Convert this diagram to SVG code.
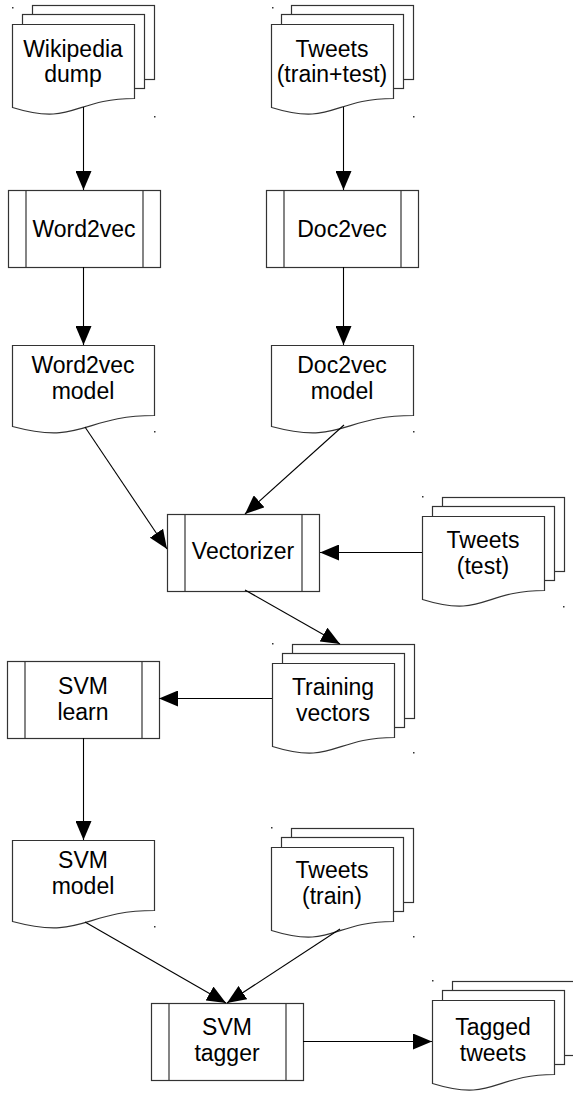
<svg xmlns="http://www.w3.org/2000/svg" xmlns:xlink="http://www.w3.org/1999/xlink" width="573" height="1099" viewBox="0 0 573 1099">
<style>
.s{fill:#fff;stroke:#333;stroke-width:1.2}
.t{font-family:"Liberation Sans",Arial,sans-serif;font-size:23px;fill:#000;text-anchor:middle}
.c{fill:none;stroke:#000;stroke-width:1.1}
.d{fill:#333}
</style>
<defs>
<marker id="ah" markerUnits="userSpaceOnUse" markerWidth="20" markerHeight="16" refX="19" refY="8" orient="auto">
<path d="M0,0 L19,8 L0,16 Z" fill="#000"/>
</marker>
<g id="mdoc">
<rect class="s" x="20" y="0" width="122" height="74"/>
<rect class="s" x="10" y="9" width="122" height="74"/>
<path class="s" d="M0,19 H122 V93 C61,93 61,121 0,102 Z"/>
</g>
<g id="doc">
<path class="s" d="M0,0 H142 V70 C71,70 71,100 0,81 Z"/>
</g>
<g id="proc">
<rect class="s" x="0" y="0" width="152" height="77"/>
<line class="s" x1="17.5" y1="0" x2="17.5" y2="77"/>
<line class="s" x1="134.5" y1="0" x2="134.5" y2="77"/>
</g>
</defs>
<rect width="573" height="1099" fill="#fff"/>

<g id="wikipedia">
<use xlink:href="#mdoc" x="12.5" y="5.5"/>
<text class="t" x="73" y="57">Wikipedia</text>
<text class="t" x="73" y="82">dump</text>
<rect class="d" x="12" y="7" width="1.5" height="1.5"/>
<rect class="d" x="154" y="116" width="1.5" height="1.5"/>
</g>
<g id="tweets-traintest">
<use xlink:href="#mdoc" x="271.5" y="5.5"/>
<text class="t" x="332" y="57">Tweets</text>
<text class="t" x="332" y="82">(train+test)</text>
<rect class="d" x="272" y="7" width="1.5" height="1.5"/>
<rect class="d" x="413" y="116" width="1.5" height="1.5"/>
</g>
<g id="word2vec">
<use xlink:href="#proc" x="8.5" y="190.5"/>
<text class="t" x="84" y="237">Word2vec</text>
</g>
<g id="doc2vec">
<use xlink:href="#proc" x="266.5" y="190.5"/>
<text class="t" x="342" y="237">Doc2vec</text>
</g>
<g id="word2vec-model">
<use xlink:href="#doc" x="12.5" y="345.5"/>
<text class="t" x="83" y="373">Word2vec</text>
<text class="t" x="83" y="399">model</text>
<rect class="d" x="154" y="431" width="1.5" height="1.5"/>
</g>
<g id="doc2vec-model">
<use xlink:href="#doc" x="271.5" y="345.5"/>
<text class="t" x="342" y="373">Doc2vec</text>
<text class="t" x="342" y="399">model</text>
<rect class="d" x="413" y="431" width="1.5" height="1.5"/>
</g>
<g id="vectorizer">
<use xlink:href="#proc" x="167.5" y="514.5"/>
<text class="t" x="243" y="559">Vectorizer</text>
</g>
<g id="tweets-test">
<use xlink:href="#mdoc" x="422.5" y="497.5"/>
<text class="t" x="483" y="548">Tweets</text>
<text class="t" x="483" y="574">(test)</text>
<rect class="d" x="422" y="496" width="1.5" height="1.5"/>
<rect class="d" x="563" y="606" width="1.5" height="1.5"/>
</g>
<g id="training-vectors">
<use xlink:href="#mdoc" x="272.5" y="644.5"/>
<text class="t" x="333" y="695">Training</text>
<text class="t" x="333" y="721">vectors</text>
<rect class="d" x="272" y="643" width="1.5" height="1.5"/>
<rect class="d" x="413" y="752" width="1.5" height="1.5"/>
</g>
<g id="svm-learn">
<use xlink:href="#proc" x="7.5" y="661.5"/>
<text class="t" x="83" y="694">SVM</text>
<text class="t" x="83" y="720">learn</text>
</g>
<g id="svm-model">
<use xlink:href="#doc" x="12.5" y="840.5"/>
<text class="t" x="83" y="868">SVM</text>
<text class="t" x="83" y="894">model</text>
<rect class="d" x="154" y="926" width="1.5" height="1.5"/>
</g>
<g id="tweets-train">
<use xlink:href="#mdoc" x="271.5" y="828.5"/>
<text class="t" x="332" y="878">Tweets</text>
<text class="t" x="332" y="904">(train)</text>
<rect class="d" x="271" y="827" width="1.5" height="1.5"/>
<rect class="d" x="413" y="936" width="1.5" height="1.5"/>
</g>
<g id="svm-tagger">
<use xlink:href="#proc" x="151.5" y="1003.5"/>
<text class="t" x="227" y="1035">SVM</text>
<text class="t" x="227" y="1061">tagger</text>
</g>
<g id="tagged-tweets">
<use xlink:href="#mdoc" x="432.5" y="981.5"/>
<text class="t" x="493" y="1035">Tagged</text>
<text class="t" x="493" y="1061">tweets</text>
<rect class="d" x="432" y="980" width="1.5" height="1.5"/>
</g>

<g id="connectors">
<path class="c" marker-end="url(#ah)" d="M83.5,107 V190"/>
<path class="c" marker-end="url(#ah)" d="M343.5,107 V190"/>
<path class="c" marker-end="url(#ah)" d="M83.5,267 V345"/>
<path class="c" marker-end="url(#ah)" d="M343.5,267 V345"/>
<path class="c" marker-end="url(#ah)" d="M85,427 L167,549"/>
<path class="c" marker-end="url(#ah)" d="M344,425 L245,514"/>
<path class="c" marker-end="url(#ah)" d="M422,552.5 H320"/>
<path class="c" marker-end="url(#ah)" d="M245,590 L340,644"/>
<path class="c" marker-end="url(#ah)" d="M272,698.5 H159"/>
<path class="c" marker-end="url(#ah)" d="M83.5,738 V840"/>
<path class="c" marker-end="url(#ah)" d="M85,922 L226,1003"/>
<path class="c" marker-end="url(#ah)" d="M340,929 L227,1003"/>
<path class="c" marker-end="url(#ah)" d="M303,1041.5 H432"/>
</g>
</svg>
